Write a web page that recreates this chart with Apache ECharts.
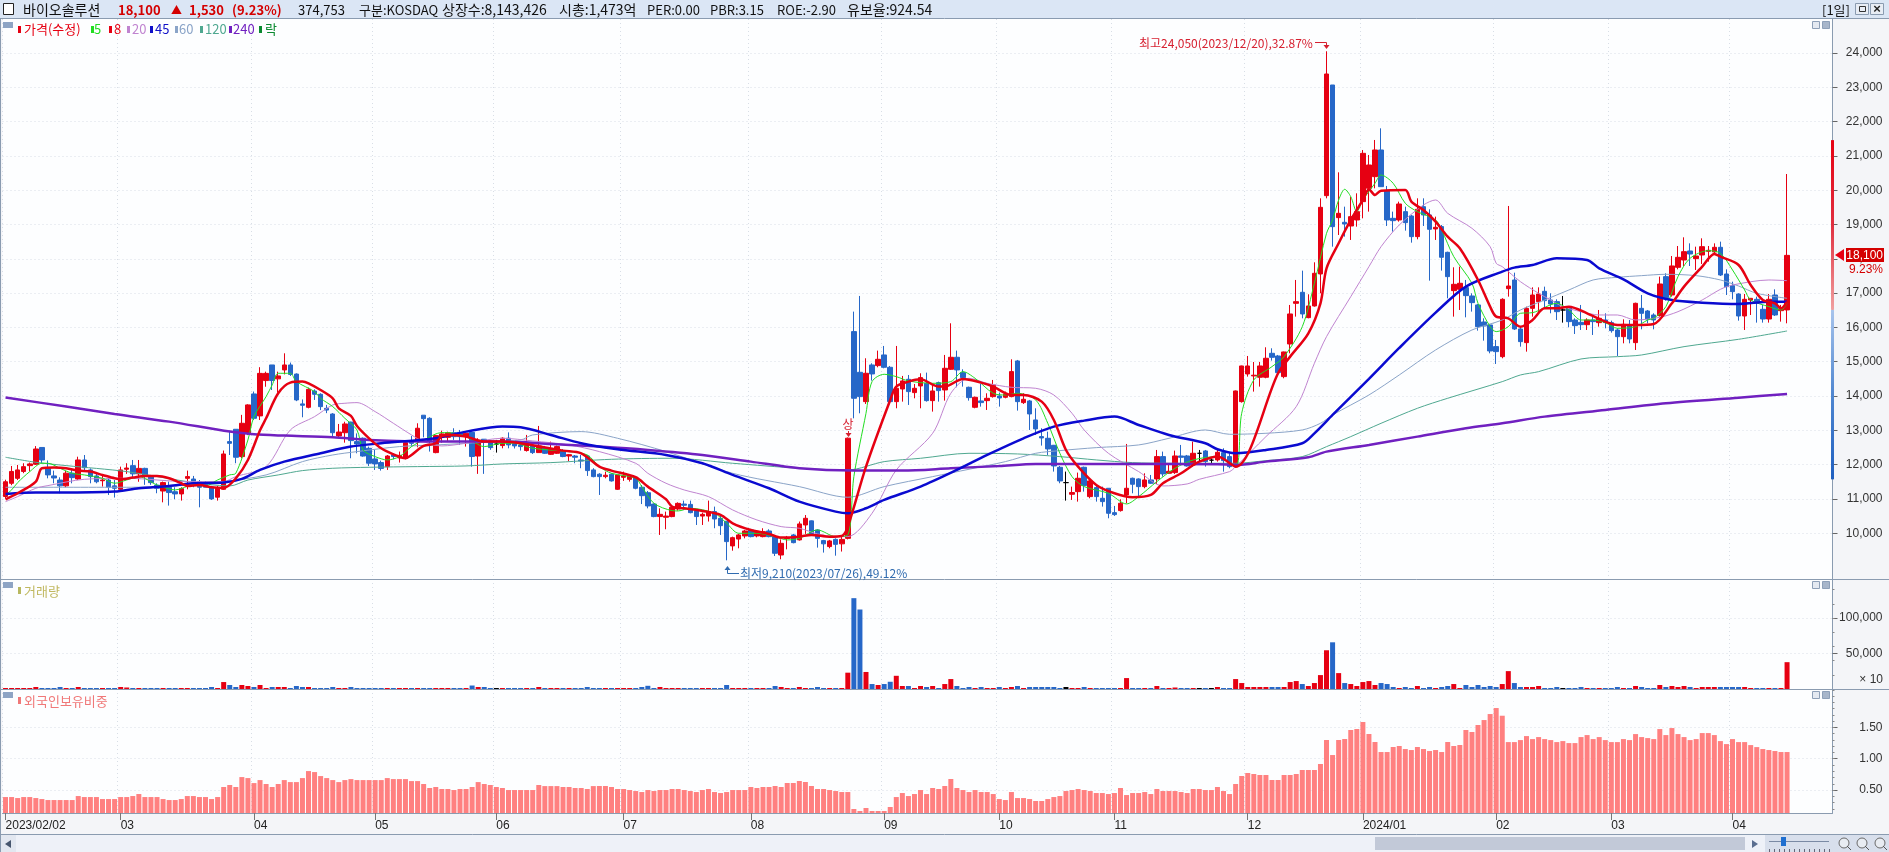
<!DOCTYPE html>
<html>
<head>
<meta charset="utf-8">
<title>바이오솔루션</title>
<script src="https://cdn.jsdelivr.net/npm/echarts@6/dist/echarts.min.js"></script>
<style>
html, body { margin: 0; padding: 0; background: #f4f5f8; overflow: hidden; }
#chart { width: 1889px; height: 852px; }
</style>
</head>
<body>
<div id="chart"></div>
<script>
// 일봉 시가/종가/저가/고가
const opens = [
  11070,11455,11600,11800,11970,12010,12500,11890,11670,11550,
  11380,11750,11580,12135,11845,11670,11530,11550,11380,11280,
  11865,11970,11730,11890,11670,11400,11230,11340,11210,11145,
  11600,11580,11500,11475,11340,11050,11280,12670,13030,12234,
  12910,14060,13420,14450,14905,14500,14760,14905,14640,13770,
  13670,14145,14050,13640,13475,12835,12930,13240,12670,12770,
  12475,12165,12060,11940,12280,12195,12185,12670,12700,13440,
  13350,12350,12795,12795,12930,12940,12815,12940,12250,12740,
  12690,12600,12555,12770,12610,12570,12410,12545,12350,12495,
  12300,12330,12410,12250,12250,12135,12250,11845,11720,11650,
  11720,11280,11630,11570,11620,11340,11180,10850,10485,10465,
  10485,10707,10850,10840,10650,10500,10500,10630,10435,10348,
  9630,9830,9920,10095,9920,9900,10065,9900,9365,9845,
  9950,9805,10240,10360,10095,9785,9610,9820,9690,9850,
  15877,14691,13836,14905,14886,15197,14837,13836,14205,14487,
  14099,14293,14371,13865,14390,14176,14779,15129,14681,14254,
  13671,13856,13865,13982,14001,13963,13982,15022,13807,13856,
  13302,12816,12767,12563,11922,11475,11135,11212,11922,11067,
  11329,11018,11310,10600,10659,11116,11601,11582,11358,11553,
  11582,12233,11747,11767,12252,12252,11990,12330,12398,12130,
  12136,12349,12233,11941,13836,14643,14585,14546,14546,15245,
  15167,14565,15517,16702,17023,16285,16625,17558,19841,23067,
  19200,19064,18957,19132,19666,20055,20395,21172,19987,19180,
  19132,19375,19248,18646,19520,19278,18870,18938,18189,17072,
  17110,17160,16916,16654,16158,16071,15440,15147,17130,17382,
  15954,15556,16556,16751,17052,16799,16751,16508,16585,16216,
  16148,16080,16216,16139,16216,16139,15925,15730,16051,15556,
  16556,16479,16362,16343,17480,16945,17752,17965,18228,18004,
  18111,18218,18199,18335,17557,17217,16974,16333,16799,16819,
  16527,16245,16945,16488,16510
];
const closes = [
  11500,11800,11845,11940,12020,12455,12135,11700,11610,11380,
  11750,11620,12135,11910,11650,11500,11550,11340,11310,11845,
  11900,11730,11890,11690,11475,11310,11475,11185,11145,11300,
  11650,11475,11340,11340,11000,11310,12310,12620,12214,13205,
  13740,13350,14660,14660,14450,14585,14905,14630,13885,13730,
  14195,14050,13690,13590,12930,12950,13185,12700,12600,12250,
  12040,12020,11890,12250,12235,12270,12640,12620,13060,13340,
  12670,12845,12895,12930,12815,12815,12915,12235,12670,12670,
  12495,12600,12770,12575,12545,12525,12620,12350,12545,12330,
  12475,12525,12235,12290,12215,12105,11825,11650,11650,11690,
  11525,11700,11670,11670,11310,11095,10795,10485,10550,10500,
  10755,10870,10815,10600,10485,10550,10630,10415,10220,9755,
  9870,9950,10065,9900,10025,10045,9900,9415,9705,9870,
  9725,10270,10435,9950,9850,9690,9775,9675,9820,12770,
  13934,13982,14662,14643,15070,14837,13836,14225,14439,14128,
  14225,14536,13865,14147,14157,14808,15129,14760,14536,13953,
  13963,13807,13933,14322,13943,14060,14711,13836,13904,13477,
  13040,12777,12456,11961,11524,11475,11185,11601,11388,11524,
  11067,10921,10581,10542,10873,11310,11427,11358,11553,11456,
  12233,11728,11805,12252,12213,11961,12330,12330,12087,12130,
  12359,12116,11941,14147,14876,14876,14606,14876,15100,15128,
  14682,15284,16392,16751,16392,16625,17577,19501,23388,18937,
  19326,19015,19229,19375,21075,20735,21172,20103,19132,19112,
  19598,19054,18646,19443,19278,18860,18918,18044,17480,17256,
  17286,16926,16722,16022,16042,15313,15294,16819,17207,15954,
  15585,16556,16945,16974,16780,16683,16459,16508,16168,16051,
  16080,16216,16168,16265,16139,15905,15730,16090,15662,16702,
  16411,16245,16216,17266,16867,17791,18043,18208,18140,18082,
  18354,18247,18335,17528,17188,17042,16333,16819,16848,16722,
  16245,16819,16362,16546,18100
];
const lows = [
  11010,11400,11550,11750,11800,11990,12040,11600,11455,11165,
  11340,11455,11550,11795,11455,11455,11360,11115,11040,11260,
  11730,11600,11500,11410,11410,11165,10900,10805,10990,10950,
  11280,11340,10755,11340,10970,10950,11260,12280,12040,12185,
  12860,13300,13300,14270,14175,14100,14630,14585,13850,13380,
  13640,13885,13590,13500,12815,12770,12640,12185,12330,12230,
  11960,11845,11825,11845,12155,12060,12155,12525,12505,12795,
  12380,12330,12640,12670,12720,12575,12525,11940,11730,11730,
  12430,12350,12475,12475,12470,12410,12380,12310,12350,12310,
  12280,12310,12215,12105,12040,11895,11670,11630,11115,11600,
  11505,11260,11525,11505,11280,10850,10725,10465,9950,10115,
  10465,10660,10680,10580,10240,10240,10340,10145,9950,9210,
  9490,9560,9850,9880,9880,9880,9880,9335,9240,9530,
  9705,9785,9980,9920,9580,9435,9560,9345,9465,9820,
  13350,13496,13768,14448,14837,14808,13807,13642,13836,13739,
  13933,13642,13836,13545,13836,13865,14759,14254,14273,13865,
  13642,13690,13593,13953,13690,13933,13963,13574,13768,13010,
  12865,12554,12281,11796,11456,10950,10970,10921,11213,11018,
  10921,10775,10435,10503,10630,10873,11164,11086,11310,11436,
  11436,11650,11728,11728,11990,11942,11942,12087,11942,12019,
  12087,11795,11893,11920,13807,14565,14128,14274,14517,15031,
  14643,14517,15245,16314,16265,16265,16605,16994,19763,18354,
  18694,18646,18549,18937,19180,19375,20055,20103,18957,18792,
  19083,18821,18471,18568,18957,17363,18549,17655,16848,16314,
  16508,16294,16460,15906,15614,15245,14934,15100,16897,15925,
  15439,15293,16313,16411,16556,16411,16216,16139,16003,15808,
  15925,15925,15779,16022,15973,15847,15167,15536,15536,15342,
  15944,16119,15944,16313,16780,16896,17693,17790,17790,17674,
  17849,17917,18111,17499,16945,16819,16197,15925,16362,16139,
  16139,16139,16333,16168,16119
];
const highs = [
  11560,11960,11990,12040,12060,12540,12500,12120,11825,11630,
  11815,11890,12230,12280,11890,11730,11700,11600,11550,11940,
  12040,12135,12135,11910,11700,11455,11505,11505,11340,11340,
  11825,11670,11550,11520,11380,11380,12410,12990,13030,13450,
  13760,14130,14840,14710,14905,14710,15245,14975,14660,13900,
  14245,14195,14080,13740,13500,13185,13250,13250,12910,12790,
  12525,12430,12115,12280,12330,12380,12670,12835,13205,13440,
  13380,12865,12990,12960,13060,13010,12930,12940,12770,12740,
  12720,12720,12795,12940,12670,12670,12865,12600,13127,12545,
  12670,12555,12450,12310,12280,12280,12280,11895,11750,11795,
  11750,11700,11795,11680,11650,11405,11230,10870,10725,10630,
  10795,10900,10950,10950,10680,10600,10950,10775,10530,10348,
  9900,9980,10095,10125,10075,10145,10115,9900,9820,9920,
  9980,10340,10530,10370,10115,9805,9805,9850,9900,12790,
  16460,16917,15100,14954,15323,15459,14876,15459,14585,14613,
  14351,14662,14682,14322,14419,15197,16120,15323,14779,14273,
  13982,14351,14079,14468,14099,14128,15070,15051,14079,13885,
  13642,13059,12961,12573,11961,11796,11358,11767,11941,11553,
  11378,11358,11310,10795,10989,12602,11621,11601,11747,11698,
  12427,12379,12039,12408,12573,12281,12670,12427,12427,12184,
  12427,12476,12330,14160,14885,15167,14992,14992,15420,15391,
  15197,15294,16654,17383,17655,16965,17898,19763,24050,23067,
  20521,19520,19812,19909,21172,21027,21464,21804,20123,19375,
  19666,19520,19278,19763,19763,19443,19229,18986,18208,17752,
  17771,17383,16994,16683,16265,16100,15634,16850,19540,17596,
  16022,16605,17168,17168,17188,16994,16819,16916,16605,16265,
  16654,16265,16362,16508,16411,16197,15973,16236,16216,16721,
  16945,16508,16411,17480,17577,18082,18373,18626,18451,18354,
  18597,18373,18451,18500,17693,17333,16994,16974,16848,16897,
  16654,16974,17110,16654,20472
];

// 이동평균선: [봉 번호, 값]
const ma5 = [[0,11115],[1,11262],[2,11475],[4,11796],[6,12039],[7,12039],[9,11893],[11,11747],[13,11699],[16,11601],[18,11456],[20,11553],[22,11650],[25,11407],[28,11261],[31,11407],[33,11378],[35,11553],[37,11700],[38,11747],[40,12719],[41,13400],[43,13982],[44,14322],[45,14662],[47,14662],[48,14420],[51,14128],[52,13933],[54,13690],[56,13350],[58,13010],[59,12427],[61,12233],[63,12136],[65,12233],[67,12525],[69,12719],[72,12933],[74,12913],[76,12816],[79,12525],[82,12622],[84,12622],[87,12476],[93,12379],[96,12282],[98,11942],[100,11747],[104,11601],[105,11358],[107,10873],[110,10659],[111,10649],[113,10727],[117,10581],[119,10290],[121,9998],[124,9998],[127,9901],[129,9804],[131,9852],[134,10095],[137,9901],[139,9950],[140,11650],[142,13496],[143,14420],[145,14633],[147,14565],[149,14439],[153,14370],[156,14419],[158,14711],[160,14516],[163,14079],[165,14030],[167,14079],[170,13885],[172,13205],[174,12330],[176,11650],[178,11359],[182,11164],[185,10853],[187,11067],[190,11504],[193,11893],[196,12136],[200,12233],[203,11941],[204,13496],[206,14468],[209,14857],[211,15148],[214,16022],[216,17286],[218,18743],[219,19132],[220,19715],[221,20026],[222,19812],[223,19375],[224,19715],[226,20201],[227,20443],[229,20201],[231,19618],[233,19375],[236,19132],[237,18841],[239,18063],[242,17286],[243,16702],[245,16022],[246,15877],[248,16022],[250,16411],[252,16430],[256,16702],[258,16508],[260,16216],[262,16216],[264,16139],[266,15973],[269,16022],[271,16216],[272,16265],[274,16605],[276,17479],[278,18014],[281,18237],[283,18160],[285,17674],[287,17091],[288,16799],[291,16605],[293,16508],[294,16702]];
const ma8 = [[0,10989],[2,11164],[5,11504],[6,11893],[8,11912],[10,11893],[12,11825],[14,11796],[16,11699],[18,11601],[19,11572],[21,11621],[23,11670],[25,11670],[27,11601],[29,11456],[30,11378],[32,11407],[34,11339],[36,11320],[38,11600],[40,12136],[42,13000],[43,13350],[45,14080],[47,14390],[49,14420],[50,14370],[52,14176],[54,13933],[55,13642],[57,13420],[58,13127],[60,12767],[62,12476],[64,12300],[66,12185],[67,12280],[69,12544],[71,12622],[72,12835],[74,12865],[76,12816],[79,12670],[82,12670],[86,12593],[92,12408],[95,12330],[98,11942],[100,11825],[104,11631],[106,11358],[109,10989],[110,10775],[112,10727],[115,10650],[118,10533],[120,10290],[123,10095],[126,9979],[128,9872],[131,9900],[133,9950],[136,9900],[138,9920],[139,10192],[142,11941],[146,13885],[147,14274],[149,14419],[151,14487],[154,14274],[155,14274],[158,14497],[161,14390],[163,14274],[166,14030],[168,14030],[171,13836],[173,13302],[175,12427],[177,11941],[180,11407],[183,11164],[186,11047],[189,11115],[191,11456],[194,11747],[196,11990],[197,12087],[200,12233],[203,11941],[210,14662],[212,15148],[215,15828],[217,16702],[218,17723],[220,18452],[222,19132],[224,19715],[225,20026],[226,19860],[227,19987],[231,20006],[232,19666],[234,19423],[236,19084],[238,18646],[240,18306],[243,17383],[245,16605],[246,16314],[248,16265],[250,16022],[252,16216],[254,16556],[256,16556],[258,16605],[261,16411],[264,16168],[266,16071],[269,16071],[272,16100],[275,16702],[277,17188],[280,17771],[282,18140],[283,18062],[286,17820],[288,17236],[290,16800],[292,16702],[293,16556],[294,16751]];
const ma20 = [[0,10921],[2,11067],[5,11310],[7,11388],[13,11572],[20,11601],[30,11504],[36,11504],[38,11650],[43,11942],[47,13010],[51,13399],[54,13739],[56,13788],[58,13807],[61,13545],[64,13205],[67,12865],[69,12670],[72,12544],[76,12622],[82,12768],[87,12690],[93,12573],[98,12379],[104,12039],[106,11747],[109,11456],[112,11261],[116,11067],[120,10678],[124,10387],[128,10192],[131,10144],[134,9979],[137,9901],[139,9901],[143,10581],[147,11844],[153,12913],[156,14079],[159,14516],[162,14370],[166,14254],[170,14225],[173,14030],[176,13496],[178,13010],[182,12330],[187,11796],[191,11378],[195,11436],[197,11572],[202,11796],[203,11941],[208,12816],[213,13690],[216,14953],[218,15731],[222,16896],[225,17772],[227,18354],[230,18986],[234,19569],[236,19715],[238,19326],[242,18889],[245,18354],[246,17869],[247,17771],[250,17334],[253,16994],[255,16799],[257,16605],[260,16459],[263,16362],[266,16362],[269,16216],[273,16294],[276,16459],[280,16799],[283,17110],[285,17236],[291,17382],[294,17363]];
const ma45 = [[0,11145],[5,11184],[9,11184],[18,11213],[22,11310],[27,11378],[31,11456],[36,11475],[39,11582],[42,11844],[46,12087],[52,12330],[57,12525],[62,12622],[71,12768],[76,12962],[82,13108],[85,13088],[90,12865],[95,12622],[101,12447],[109,12282],[115,12039],[120,11699],[126,11310],[131,10921],[137,10630],[139,10580],[142,10727],[145,10970],[151,11358],[157,11844],[162,12282],[168,12767],[173,13107],[178,13282],[183,13399],[187,13156],[192,12865],[198,12622],[200,12447],[203,12330],[208,12427],[214,12622],[216,12913],[219,13447],[225,14500],[230,15400],[236,16430],[241,17190],[247,17625],[249,17742],[252,17820],[256,18014],[261,17966],[263,17722],[267,17402],[271,16994],[275,16799],[280,16722],[286,16683],[291,16751],[294,16751]];
const ma60 = [[0,11339],[10,11339],[20,11339],[28,11378],[36,11504],[43,11699],[49,12087],[54,12281],[58,12379],[65,12525],[71,12573],[76,12622],[85,12719],[87,12865],[95,12962],[101,12768],[109,12379],[120,11747],[131,11358],[139,11048],[145,11358],[153,11650],[159,11864],[165,12087],[170,12330],[174,12408],[180,12495],[187,12573],[192,12767],[198,13010],[202,12884],[208,12913],[214,13010],[217,13204],[219,13447],[225,14030],[230,14613],[236,15342],[242,15925],[247,16216],[250,16508],[254,16799],[258,17091],[262,17383],[266,17460],[270,17509],[274,17548],[279,17509],[283,17383],[286,17207],[289,16994],[294,16848]];
const ma120 = [[0,12214],[5,12068],[10,11971],[20,11796],[30,11504],[37,11378],[40,11550],[45,11699],[49,11825],[54,11893],[60,11922],[68,11942],[76,11961],[82,12019],[90,12058],[100,12155],[110,12185],[120,12039],[131,11893],[139,11844],[145,12087],[151,12184],[159,12330],[167,12311],[174,12233],[180,12136],[186,12058],[192,12039],[203,12039],[208,12116],[214,12233],[218,12524],[222,12816],[227,13204],[233,13642],[238,13934],[247,14419],[250,14613],[253,14710],[260,15080],[266,15147],[270,15196],[277,15439],[286,15653],[294,15896]];
const ma240 = [[0,13958],[10,13691],[18,13477],[27,13253],[37,12962],[41,12884],[46,12845],[54,12797],[60,12719],[71,12670],[82,12670],[90,12602],[98,12525],[106,12427],[115,12282],[123,12087],[131,11893],[140,11825],[148,11825],[156,11893],[164,11961],[170,12019],[183,12019],[200,12009],[203,11990],[208,12087],[215,12214],[218,12378],[225,12573],[233,12816],[241,13059],[247,13204],[254,13399],[264,13593],[274,13787],[286,13952],[294,14059]];

const volumes = [
  1400,1400,1400,1400,1400,2800,1400,1400,1400,2800,
  1400,1400,2800,1400,1400,1400,1400,1400,1400,2800,
  2100,1400,1400,1400,1400,1400,1400,1400,1400,1400,
  1400,1400,1400,1400,2800,1400,9800,5600,2800,5600,
  4200,2800,5600,1400,2800,2800,2800,1400,4200,2800,
  2800,1400,1400,1400,2800,1400,1400,2800,1400,1400,
  1400,1400,1400,1400,1400,1400,1400,1400,1400,1400,
  1400,1400,1400,1400,1400,1400,1400,4900,2800,2800,
  1400,1400,1400,1400,1400,1400,1400,1400,2800,1400,
  1400,1400,1400,1400,1400,1400,2800,1400,1400,1400,
  1400,1400,1400,1400,1400,2800,4500,1400,2800,1400,
  1400,1400,1400,1400,1400,1400,1400,1400,1400,5600,
  1400,1400,1400,1400,1400,1400,1400,4200,2800,1400,
  1400,2800,1400,1400,2800,1400,1400,1400,1400,23000,
  128000,112000,24000,7000,5600,7000,10200,18600,4200,4200,
  1400,4200,2800,4200,1400,7000,14000,4200,1400,2800,
  1400,2800,1400,1400,2800,1400,2800,4200,1400,2800,
  2800,2800,2800,2800,1400,2800,1400,1400,2800,1400,
  1400,1400,1400,1400,1400,15400,1400,1400,1400,1400,
  4200,1400,1400,2100,1400,1400,1400,1400,1400,1400,
  2800,1400,1400,14000,8400,2800,2800,2800,2800,2800,
  2800,2800,9800,11200,7000,4200,8400,19600,54600,65800,
  22400,8400,7000,4200,9800,11200,5600,8400,7000,2800,
  1400,2800,1400,4200,1400,2800,1400,2800,4200,7000,
  1400,5600,2800,5600,2800,4200,2800,7000,25200,8400,
  2800,2800,2800,4200,1400,1400,2800,1400,1400,1400,
  2800,1400,1400,1400,1400,1400,2800,1400,1400,4200,
  2800,1400,1400,5600,2800,4200,2800,4200,2800,1400,
  2800,2800,2800,2800,2800,2800,2800,2800,1400,1400,
  1400,1400,1400,1400,37800
];
const foreignRatio = [
  .388,.388,.372,.388,.388,.372,.356,.340,.340,.340,
  .340,.340,.404,.388,.388,.388,.356,.356,.356,.388,
  .388,.404,.436,.388,.388,.388,.356,.340,.340,.356,
  .404,.404,.388,.388,.356,.388,.548,.580,.548,.707,
  .691,.611,.659,.596,.548,.596,.659,.627,.627,.691,
  .803,.787,.723,.691,.659,.627,.659,.675,.659,.659,
  .659,.659,.659,.691,.675,.675,.675,.643,.643,.596,
  .532,.548,.516,.516,.500,.516,.516,.548,.627,.596,
  .580,.548,.532,.500,.500,.500,.500,.500,.580,.563,
  .563,.563,.548,.548,.532,.532,.516,.563,.564,.564,
  .548,.516,.516,.500,.484,.468,.500,.484,.500,.500,
  .516,.516,.500,.484,.468,.500,.516,.468,.452,.468,
  .500,.500,.500,.548,.532,.548,.548,.564,.548,.612,
  .612,.644,.628,.564,.516,.516,.500,.484,.468,.468,
  .197,.165,.213,.165,.165,.165,.229,.388,.452,.404,
  .436,.500,.436,.532,.516,.564,.676,.532,.500,.468,
  .500,.468,.468,.436,.356,.340,.468,.372,.372,.356,
  .325,.325,.356,.388,.404,.484,.500,.516,.500,.484,
  .452,.452,.436,.452,.532,.420,.452,.452,.468,.436,
  .516,.484,.484,.484,.468,.452,.516,.516,.500,.500,
  .548,.484,.436,.596,.724,.772,.756,.740,.740,.660,
  .660,.740,.740,.756,.820,.820,.820,.916,1.299,1.059,
  1.299,1.315,1.459,1.475,1.587,1.395,1.267,1.107,1.107,1.187,
  1.203,1.155,1.139,1.187,1.155,1.123,1.139,1.107,1.267,1.203,
  1.219,1.459,1.427,1.539,1.618,1.714,1.810,1.687,1.266,1.266,
  1.298,1.362,1.314,1.346,1.314,1.298,1.266,1.282,1.250,1.250,
  1.346,1.378,1.314,1.346,1.298,1.266,1.266,1.314,1.298,1.394,
  1.346,1.330,1.314,1.474,1.378,1.490,1.394,1.346,1.298,1.314,
  1.410,1.410,1.378,1.282,1.234,1.314,1.266,1.266,1.218,1.186,
  1.155,1.139,1.123,1.107,1.107
];

const monthTicks = [0,19,41,61,81,102,123,145,164,183,205,224,246,265,285];
const monthLabels = ['2023/02/02','03','04','05','06','07','08','09','10','11','12','2024/01','02','03','04'];
const priceTicks = [10000,11000,12000,13000,14000,15000,16000,17000,18000,19000,20000,21000,22000,23000,24000];
const volumeTicks = [50000,100000];
const foreignTicks = [0.5,1,1.5];
const rangeBar = [21460,16510,11570];

const barCount = opens.length;
const rightBlank = 7;
const categories = [];
for (let i = 0; i < barCount + rightBlank; i++) categories.push(String(i));

const monthMap = {};
monthTicks.forEach((t, i) => { monthMap[String(t)] = monthLabels[i]; });

const RED = '#e60012', BLUE = '#2667c8', BLACK = '#000000';
const FONT = '"Liberation Sans","Noto Sans CJK KR",sans-serif';
const KFONT = '"Noto Sans CJK KR","Liberation Sans",sans-serif';
const LINE = '#8a9bb0';
const GRID = '#d8dee6';

const candleData = opens.map((o, i) => {
  const item = { value: [o, closes[i], lows[i], highs[i]] };
  if (o === closes[i]) item.itemStyle = { color: BLACK, color0: BLACK, borderColor: BLACK, borderColor0: BLACK };
  return item;
});
const volumeData = volumes.map((v, i) => ({
  value: v,
  itemStyle: { color: closes[i] > opens[i] ? RED : (closes[i] < opens[i] ? BLUE : BLACK) }
}));

const lineSeries = (name, data, color, width) => ({
  name, type: 'line', data, xAxisIndex: 0, yAxisIndex: 0,
  showSymbol: false, symbol: 'none', smooth: 0.3,
  lineStyle: { color, width }, silent: true, z: 3, animation: false
});

const xAxisCommon = (gridIndex, showLabel) => ({
  type: 'category', gridIndex, data: categories,
  axisLine: { show: showLabel, lineStyle: { color: LINE } },
  axisTick: { show: showLabel, customValues: monthTicks, alignWithLabel: true, length: 7, lineStyle: { color: '#777' } },
  axisLabel: {
    show: showLabel, customValues: monthTicks, align: 'left', margin: 7,
    color: '#222', fontFamily: FONT, fontSize: 12,
    formatter: v => monthMap[v] || ''
  },
  splitLine: { show: true, lineStyle: { color: GRID, type: [1, 3] } }
});

const yMajor = (gridIndex, min, max, ticks, fmt) => ({
  type: 'value', gridIndex, position: 'right', min, max, scale: true,
  axisLine: { show: true, lineStyle: { color: LINE } },
  axisTick: { show: true, customValues: ticks, length: 5, lineStyle: { color: '#666' } },
  axisLabel: { show: true, customValues: ticks, align: 'right', margin: 50, color: '#333', fontFamily: FONT, fontSize: 12, formatter: fmt },
  splitLine: { show: true, lineStyle: { color: GRID, type: [1, 3] } }
});
const yMinor = (gridIndex, min, max, ticks) => ({
  type: 'value', gridIndex, position: 'right', min, max, scale: true,
  axisLine: { show: false },
  axisTick: { show: true, customValues: ticks, length: 2, lineStyle: { color: '#888' } },
  axisLabel: { show: false }, splitLine: { show: false }
});
const comma = v => Number(v).toLocaleString('en-US');

const volMinor = [], forMinor = [];
for (let v = 20000; v < 150000; v += 20000) volMinor.push(v);
for (let v = 2; v <= 21; v++) forMinor.push(v / 10);

// 화면 틀, 글자, 버튼
const els = [];
const text = (x, y, str, fill, font, align) => els.push({
  type: 'text', x, y, z: 50, silent: true,
  style: { text: str, fill, font: font || ('13px ' + KFONT), textAlign: align || 'left', textVerticalAlign: 'middle' }
});
const rect = (x, y, w, h, fill, stroke, z) => els.push({
  type: 'rect', z: z === undefined ? 1 : z, silent: true, shape: { x, y, width: w, height: h },
  style: { fill: fill || 'none', stroke: stroke || 'none', lineWidth: 1 }
});
const seg = (x1, y1, x2, y2, stroke, z) => els.push({
  type: 'line', z: z === undefined ? 40 : z, silent: true, shape: { x1, y1, x2, y2 }, style: { stroke, lineWidth: 1 }
});
const poly = (points, fill, z) => els.push({
  type: 'polygon', z: z === undefined ? 41 : z, silent: true, shape: { points }, style: { fill }
});

// 머리줄
rect(0, 0, 1889, 18, '#dbe6f5');
rect(3.5, 3.5, 10, 11, '#ffffff', '#222');
const HB = 'bold 13px ' + KFONT;
const HN = '14px ' + KFONT;
const HS = '13px ' + KFONT;
text(23, 10, '바이오솔루션', '#111', HN);
text(118, 10, '18,100', '#d40000', HB);
text(171, 10, '▲', '#d40000', '11px ' + KFONT);
text(189, 10, '1,530', '#d40000', HB);
text(232, 10, '(9.23%)', '#d40000', HB);
text(298, 10, '374,753', '#111', HS);
text(359, 10, '구분:KOSDAQ', '#111', HS);
text(442, 10, '상장수:8,143,426', '#111', HN);
text(559, 10, '시총:1,473억', '#111', HN);
text(647, 10, 'PER:0.00', '#111', HS);
text(710, 10, 'PBR:3.15', '#111', HS);
text(777, 10, 'ROE:-2.90', '#111', HS);
text(847, 10, '유보율:924.54', '#111', HN);
text(1822, 10, '[1일]', '#111', HS);
rect(1855.5, 3.5, 13, 11, '#e8edf5', '#8a9bb0');
rect(1859.5, 6.5, 6, 5, 'none', '#333', 2);
rect(1870.5, 3.5, 13, 11, '#e8edf5', '#8a9bb0');
text(1877, 9, '×', '#222', 'bold 13px ' + FONT, 'center');

// 범례
const legendItems = [
  [18, 24, '가격(수정)', '#e60012', '#e60012'],
  [91, 94, '5', '#22dd22', '#22dd22'],
  [109, 114, '8', '#e60012', '#e60012'],
  [127, 132, '20', '#c084d0', '#c084d0'],
  [150, 155, '45', '#1010c8', '#1010c8'],
  [175, 179, '60', '#8aa4c8', '#8aa4c8'],
  [200, 205, '120', '#4fa890', '#4fa890'],
  [229, 233, '240', '#7020c0', '#7020c0'],
  [259, 265, '락', '#0a8a30', '#0a8a30']
];
legendItems.forEach(it => {
  rect(it[0], 26, 3, 7, it[3], null, 41);
  text(it[1], 29.5, it[2], it[4]);
});
rect(18, 587, 3, 7, '#b8b860', null, 41);
text(24, 591, '거래량', '#c0b860');
rect(18, 697, 3, 7, '#f07878', null, 41);
text(24, 701, '외국인보유비중', '#f07878');

// 패널 버튼
[22, 582, 692].forEach(y => {
  rect(3, y, 10, 6, '#8ea4c4', null, 41);
  rect(1812.5, y - 0.5, 7, 7, '#e4e9f1', '#8ea0b8', 41);
  rect(1822.5, y - 0.5, 7, 7, '#a8b6ca', '#8ea0b8', 41);
});

// 테두리
seg(0.5, 18, 0.5, 852, LINE, 40);
seg(0, 18.5, 1889, 18.5, LINE, 40);
seg(0, 579.5, 1889, 579.5, LINE, 40);
seg(0, 689.5, 1889, 689.5, LINE, 40);
seg(0, 834.5, 1889, 834.5, LINE, 40);

// 최고/최저 표시
text(1139, 43, '최고24,050(2023/12/20),32.87%', '#d62030', '12px ' + KFONT);
seg(1315, 42.5, 1326.5, 42.5, '#d62030');
seg(1326.5, 42.5, 1326.5, 47, '#d62030');
poly([[1323.5, 45], [1329.5, 45], [1326.5, 49]], '#d62030');
text(740, 573, '최저9,210(2023/07/26),49.12%', '#2f6bb0', '12px ' + KFONT);
seg(727.5, 573.5, 739, 573.5, '#2f6bb0');
seg(727.5, 568, 727.5, 573.5, '#2f6bb0');
poly([[724.5, 570], [730.5, 570], [727.5, 566]], '#2f6bb0');
text(848, 424, '상', '#d62030', '12px ' + KFONT, 'center');
seg(848.5, 431, 848.5, 436, '#d62030');
poly([[845.5, 433], [851.5, 433], [848.5, 437]], '#d62030');

// 현재가 표시
poly([[1835, 255], [1844, 249], [1844, 261]], '#e60012');
rect(1846, 248, 38, 14, '#d40000', null, 41);
text(1883, 255.5, '18,100', '#ffffff', '12px ' + FONT, 'right');
text(1883, 269.5, '9.23%', '#d40000', '12px ' + FONT, 'right');
text(1883, 680, '× 10', '#333', '12px ' + FONT, 'right');

// 스크롤바
rect(0, 835, 1889, 17, '#eef1f8');
rect(1, 835, 15, 17, '#e2e7f0');
poly([[5, 844], [11, 840], [11, 848]], '#46566e', 42);
rect(1375, 837, 370, 13, '#c2c9d8');
poly([[1752, 840], [1752, 848], [1758, 844]], '#5a6e90', 42);
rect(1765, 835, 124, 17, '#d8dfec');
seg(1769, 841.5, 1829, 841.5, '#7a8aa4', 42);
rect(1781, 837, 5, 9, '#1f6fd0', null, 43);
for (let x = 1769; x <= 1829; x += 5) seg(x + 0.5, 849, x + 0.5, 852, '#667', 42);
[1844, 1862, 1880].forEach(cx => {
  els.push({ type: 'circle', z: 42, silent: true, shape: { cx, cy: 843, r: 5 }, style: { fill: '#e8ecf2', stroke: '#6a6a6a', lineWidth: 1 } });
  seg(cx + 3, 846, cx + 7, 850, '#555', 43);
});

const chart = echarts.init(document.getElementById('chart'), null, { renderer: 'canvas' });
chart.setOption({
  animation: false,
  backgroundColor: '#f4f5f8',
  grid: [
    { left: 2.5, width: 1830, top: 19, height: 560, show: true, backgroundColor: '#fdfeff', borderWidth: 0 },
    { left: 2.5, width: 1830, top: 579, height: 110, show: true, backgroundColor: '#fdfeff', borderWidth: 0 },
    { left: 2.5, width: 1830, top: 689, height: 124, show: true, backgroundColor: '#fdfeff', borderWidth: 0 }
  ],
  xAxis: [xAxisCommon(0, false), xAxisCommon(1, false), xAxisCommon(2, true)],
  yAxis: [
    yMajor(0, 8665, 24991, priceTicks, comma),
    yMajor(1, 0, 155000, volumeTicks, comma),
    yMajor(2, 0.133, 2.114, foreignTicks, v => Number(v).toFixed(2)),
    yMinor(1, 0, 155000, volMinor),
    yMinor(2, 0.133, 2.114, forMinor)
  ],
  graphic: { elements: els },
  series: [
    {
      name: '가격(수정)', type: 'candlestick', xAxisIndex: 0, yAxisIndex: 0, data: candleData,
      barWidth: 5, silent: true, z: 2,
      itemStyle: { color: RED, color0: BLUE, borderColor: RED, borderColor0: BLUE, borderWidth: 1 }
    },
    lineSeries('120', ma120, '#4fa890', 1),
    lineSeries('60', ma60, '#8aa4c8', 1),
    lineSeries('20', ma20, '#c084d0', 1),
    lineSeries('5', ma5, '#22dd22', 1),
    lineSeries('240', ma240, '#7020c0', 2.5),
    lineSeries('45', ma45, '#0a0ad0', 2.5),
    lineSeries('8', ma8, '#e60012', 2.5),
    {
      // 오른쪽 가격대 막대
      type: 'custom', xAxisIndex: 0, yAxisIndex: 0, silent: true, z: 5, clip: false,
      data: [[rangeBar[0], rangeBar[1]], [rangeBar[1], rangeBar[2]]],
      encode: { y: [0, 1] },
      renderItem: (params, api) => {
        const cs = params.coordSys;
        const a = api.coord([0, api.value(0)]);
        const b = api.coord([0, api.value(1)]);
        const up = params.dataIndex === 0;
        return {
          type: 'rect',
          shape: { x: cs.x + cs.width - 1.5, y: a[1], width: 3, height: b[1] - a[1] },
          style: {
            fill: new echarts.graphic.LinearGradient(0, 0, 0, 1, up
              ? [{ offset: 0, color: '#e60012' }, { offset: 0.5, color: '#e03040' }, { offset: 1, color: '#f0a0a0' }]
              : [{ offset: 0, color: '#a8c4ec' }, { offset: 0.5, color: '#4f86d0' }, { offset: 1, color: '#1f5fc0' }])
          }
        };
      }
    },
    { name: '거래량', type: 'bar', xAxisIndex: 1, yAxisIndex: 1, data: volumeData, barWidth: 5, silent: true },
    { name: '외국인보유비중', type: 'bar', xAxisIndex: 2, yAxisIndex: 2, data: foreignRatio, barWidth: 5, silent: true, itemStyle: { color: '#ff8080' } }
  ]
});
</script>
</body>
</html>
